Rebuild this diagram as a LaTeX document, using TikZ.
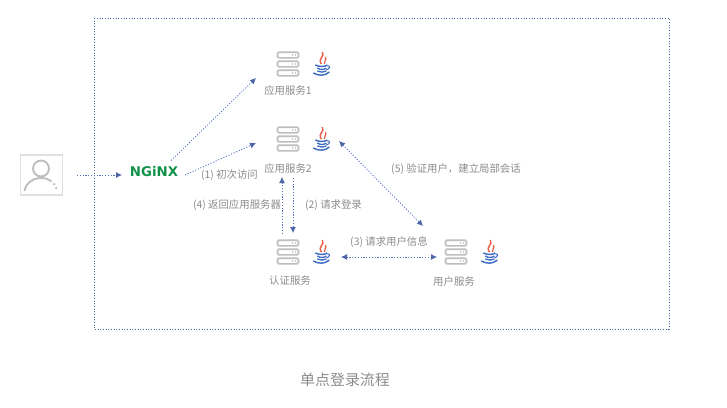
\documentclass[tikz,border=0pt]{standalone}
\usepackage{fontspec}
\setmainfont{Noto Sans CJK SC}
\newfontfamily\logofont{DejaVu Sans}
\definecolor{flowblue}{HTML}{5B78C8}
\definecolor{boxgray}{HTML}{BEBEBE}
\definecolor{textgray}{HTML}{8C8C8C}
\definecolor{javared}{HTML}{E8604C}
\definecolor{javablue}{HTML}{3D6CC0}
\definecolor{nginxgreen}{HTML}{11924A}
\usetikzlibrary{arrows.meta}
\tikzset{
    flow/.style={flowblue, line width=0.6pt, dash pattern=on 0.9pt off 1.2pt, -{Latex[length=4.5pt,width=4.5pt,flowblue!85!black]}},
    bothflow/.style={flow, {Latex[length=4.5pt,width=4.5pt,flowblue!85!black]}-{Latex[length=4.5pt,width=4.5pt,flowblue!85!black]}},
    note/.style={text=textgray, font=\fontsize{7.8pt}{9pt}\selectfont, inner sep=0pt},
    service/.style={minimum width=42pt, minimum height=20pt, inner sep=0pt},
    serverpic/.pic={
        \foreach \row in {-9,0,9} {
            \draw[boxgray, line width=1.2pt, rounded corners=1pt] (-10.5,\row-2.8) rectangle (10.5,\row+2.8);
            \fill[boxgray] (4.5,\row) circle (0.6pt);
            \fill[boxgray] (7.5,\row) circle (0.6pt);
        }
    },
    javapic/.pic={
        \draw[javared, line width=1.1pt] (1,-12) .. controls (4,-7) and (-4,-6) .. (0,0);
        \draw[javared, line width=0.9pt] (4,-7) .. controls (6,-4) and (2,-3) .. (3,0);
        \draw[javablue, line width=1.1pt] (-6,1) .. controls (-2,3) and (3,3) .. (6,1);
        \draw[javablue, line width=1pt] (-4,4) .. controls (-1,6) and (2,6) .. (5,4);
        \draw[javablue, line width=1pt] (-4,7) .. controls (-1,8.5) and (2,8.5) .. (5,7);
        \draw[javablue, line width=1.1pt] (-8,9) .. controls (-3,12) and (4,12) .. (8,8);
        \draw[javablue, line width=0.8pt] (6,2) .. controls (9,1) and (9,5) .. (5,6);
    }
}
\begin{document}
\begin{tikzpicture}[x=0.75pt, y=-0.75pt]
    \useasboundingbox (0,0) rectangle (727,407);
    \fill[white] (0,0) rectangle (727,407);
    \draw[flowblue!80!black, line width=0.55pt, dash pattern=on 0.8pt off 1.2pt] (94,18) rectangle (669,329);

    % user
    \node[draw=black!12, line width=0.8pt, minimum width=32pt, minimum height=30pt, inner sep=0pt] (user) at (41.5,175) {};
    \draw[boxgray, line width=1.4pt] (41,168.5) circle (6pt);
    \draw[boxgray, line width=1.4pt] (24.5,191) .. controls (26,183) and (33,178) .. (41,178) .. controls (45,178) and (48,179) .. (50,180.5);
    \draw[boxgray, line width=1.4pt, dotted] (50,180.5) .. controls (54,183) and (56,186) .. (57,191);

    \node[text=nginxgreen, inner sep=0pt, font=\logofont\bfseries\fontsize{10pt}{10pt}\selectfont] (nginx) at (154,171.5) {NGiNX};

    % services
    \node[service] (app1) at (304,64) {};
    \node[service] (app2) at (304,139) {};
    \node[service] (auth) at (304,252) {};
    \node[service] (usr) at (472,252) {};
    \foreach \nodename in {app1,app2,auth,usr} {
        \pic at ([xshift=-12pt]\nodename.center) {serverpic};
        \pic at ([xshift=13pt]\nodename.center) {javapic};
    }

    \node[note] (app1label) at (288,91) {应用服务1};
    \node[note] (app2label) at (288,169) {应用服务2};
    \node[note] (authlabel) at (290,281) {认证服务};
    \node[note] (usrlabel) at (454,282) {用户服务};

    \node[note] (step1) at (229.5,175) {(1) 初次访问};
    \node[note] (step4) at (237,205) {(4) 返回应用服务器};
    \node[note] (step2) at (333.5,205) {(2) 请求登录};
    \node[note] (step3) at (389,242) {(3) 请求用户信息};
    \node[note] (step5) at (456,169) {(5) 验证用户，建立局部会话};

    \draw[flow] ([shift={(35.5,0)}]user.center) -- ([shift={(-32,3.5)}]nginx.center);
    \draw[flow] ([shift={(17,-11)}]nginx.center) -- ([shift={(-48,14)}]app1.center);
    \draw[flow] ([shift={(31,3.5)}]nginx.center) -- ([shift={(-48,4)}]app2.center);
    \draw[flow] ([shift={(-22,-18)}]auth.center) -- ([shift={(-22,38)}]app2.center);
    \draw[flow] ([shift={(-11,39)}]app2.center) -- ([shift={(-11,-19)}]auth.center);
    \draw[bothflow] ([shift={(37,5)}]auth.center) -- ([shift={(-35,5)}]usr.center);
    \draw[bothflow] ([shift={(35,2)}]app2.center) -- ([shift={(-49,-26)}]usr.center);

    \node[text=textgray, inner sep=0pt, font=\fontsize{11.2pt}{13pt}\selectfont] (title) at (345,380) {单点登录流程};
\end{tikzpicture}
\end{document}
